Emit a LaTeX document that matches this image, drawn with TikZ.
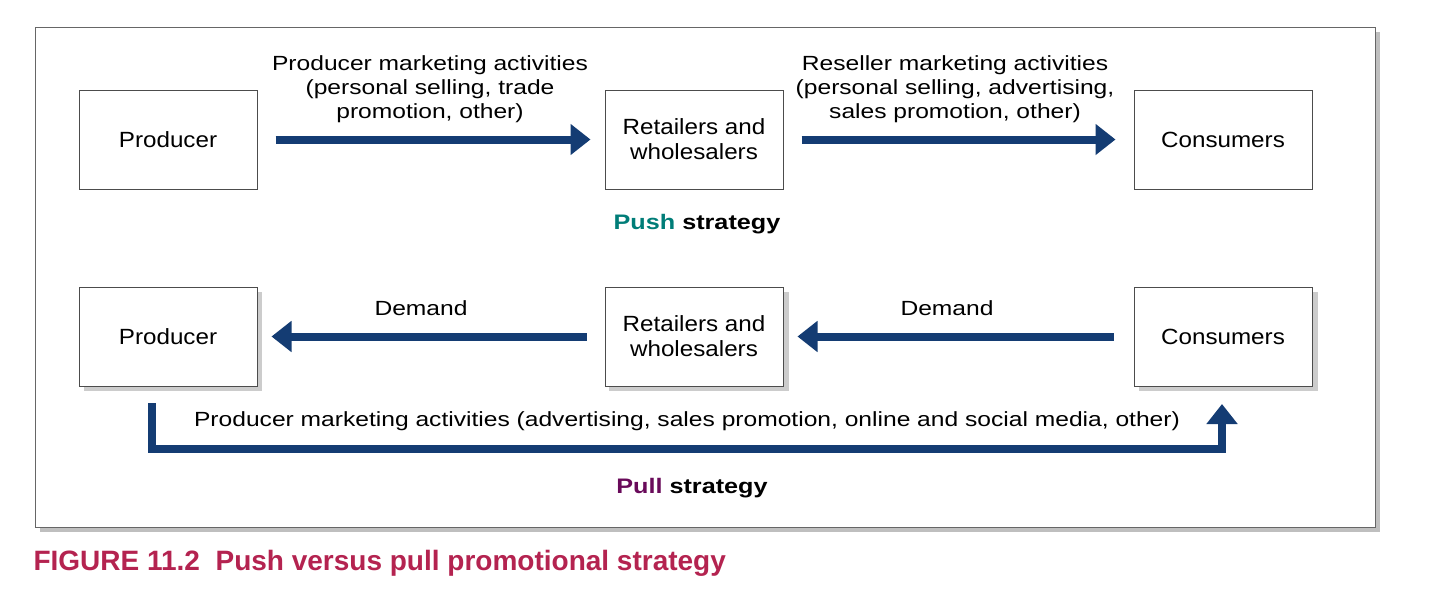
\documentclass[tikz,border=0pt]{standalone}
\usepackage{fontspec}
\setmainfont{Liberation Sans}
\newfontfamily\widef[FakeStretch=1.2]{Liberation Sans}
\newfontfamily\boxf[FakeStretch=1.1]{Liberation Sans}
\usetikzlibrary{arrows.meta}
\definecolor{navy}{RGB}{20,60,115}
\definecolor{pushc}{RGB}{0,125,120}
\definecolor{pullc}{RGB}{105,10,90}
\definecolor{capc}{RGB}{180,35,80}
\tikzset{
  box/.style={draw=black!70,line width=1pt,fill=white,minimum width=178pt,minimum height=99pt,align=center,font=\boxf\fontsize{22}{25}\selectfont},
  flow/.style={navy,line width=8pt,-{Triangle[width=30pt,length=20pt]}},
  lab/.style={align=center,font=\widef\fontsize{20.5}{24}\selectfont},
}
\begin{document}
\begin{tikzpicture}[x=1pt,y=-1pt]
\useasboundingbox (0,0) rectangle (1440,613);
\fill[black!25] (40,32) rectangle (1380,532);
\draw[black!60,fill=white,line width=1pt] (35,27) rectangle (1375,527);
\node[box] (p1) at (168,139.5) {Producer};
\node[box] (r1) at (694,139.5) {Retailers and\\wholesalers};
\node[box] (c1) at (1223,139.5) {Consumers};
\fill[black!20] (84,292) rectangle (262,391);
\fill[black!20] (609,292) rectangle (789,391);
\fill[black!20] (1139,292) rectangle (1318,391);
\node[box] (p2) at (168,336.5) {Producer};
\node[box] (r2) at (694,336.5) {Retailers and\\wholesalers};
\node[box] (c2) at (1223,336.5) {Consumers};
\draw[flow] ([xshift=18pt]p1.east) -- ([xshift=-14pt]r1.west);
\draw[flow] ([xshift=18pt]r1.east) -- ([xshift=-18pt]c1.west);
\draw[flow] ([xshift=-18pt]r2.west) -- ([xshift=14pt]p2.east);
\draw[flow] ([xshift=-20pt]c2.west) -- ([xshift=14pt]r2.east);
\coordinate (a) at (152,449);
\coordinate (b) at (1222,449);
\draw[flow] (152,403) -- (a) -- (b) -- (1222,404);
\node[lab] (t1) at (430,89) {Producer marketing activities\\(personal selling, trade\\promotion, other)};
\node[lab] (t2) at (955,89) {Reseller marketing activities\\(personal selling, advertising,\\sales promotion, other)};
\node[lab] (d1) at (421,308) {Demand};
\node[lab] (d2) at (947,308) {Demand};
\node[lab] (t3) at (687,421) {Producer marketing activities (advertising, sales promotion, online and social media, other)};
\node[lab,font=\widef\fontsize{21}{24}\selectfont\bfseries] (push) at (697,224) {\textcolor{pushc}{Push} strategy};
\node[lab,font=\widef\fontsize{21}{24}\selectfont\bfseries] (pull) at (692,488) {\textcolor{pullc}{Pull} strategy};
\node[anchor=west,text=capc,font=\fontsize{28}{30}\selectfont\bfseries] (cap) at (30,563) {FIGURE 11.2\ \ Push versus pull promotional strategy};
\end{tikzpicture}
\end{document}
